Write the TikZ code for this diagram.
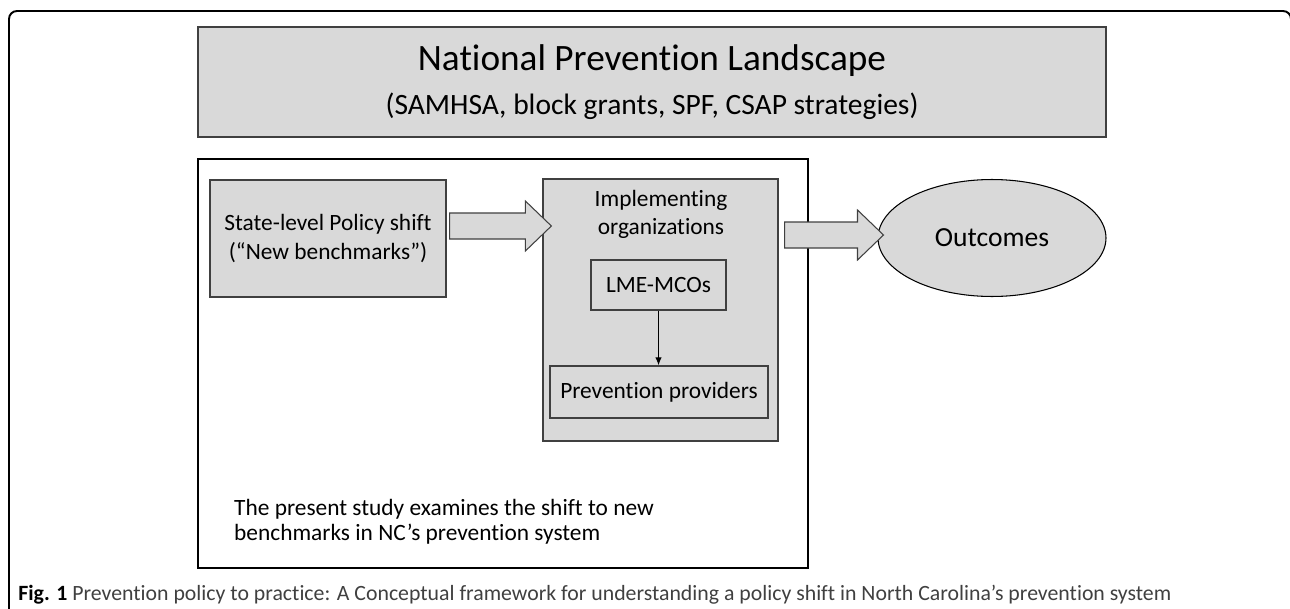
\documentclass[tikz,border=0pt]{standalone}
\usepackage{fontspec}
\setmainfont{Carlito}[Ligatures=NoCommon]
\usetikzlibrary{shapes.geometric,arrows.meta,calc}
\definecolor{boxfill}{HTML}{D9D9D9}
\definecolor{boxline}{HTML}{404040}
\begin{document}
\begin{tikzpicture}[x=.02cm,y=-.02cm,font=\fontsize{13.3}{16}\selectfont,
  graybox/.style={draw=boxline,fill=boxfill,line width=.75pt,inner sep=0pt,align=center},
  fatarrow/.style={draw=boxline,fill=boxfill,line width=.6pt,line join=miter}]
\useasboundingbox (0,0) rectangle (1290,608);
\draw[line width=1.1pt,rounded corners=.16cm] (9,640)--(9,11)--(1291,11)--(1291,640);
\node[graybox,minimum width=18.16cm,minimum height=2.2cm,font=\fontsize{21.2}{25}\selectfont] (land) at (652,82)
  {National Prevention Landscape\\{\fontsize{16.8}{20}\selectfont(SAMHSA, block grants, SPF, CSAP strategies)}};
\node[draw=black,fill=white,line width=.75pt,minimum width=12.2cm,minimum height=8.18cm] (study) at (503,363.5) {};
\node[graybox,minimum width=4.72cm,minimum height=2.34cm] (state) at (328,238.5) {State-level Policy shift\\(“New benchmarks”)};
\node[graybox,minimum width=4.7cm,minimum height=5.24cm] (impl) at (660.5,310) {};
\node[align=center] (impltitle) at (661,214) {Implementing\\organizations};
\node[graybox,minimum width=2.7cm,minimum height=1cm] (lme) at (658.5,285) {LME-MCOs};
\node[graybox,minimum width=4.36cm,minimum height=1.04cm] (prov) at (659,392) {Prevention providers};
\node[ellipse,draw=black,fill=boxfill,line width=.6pt,inner sep=0pt,minimum width=4.56cm,minimum height=2.34cm,
  font=\fontsize{15.7}{19}\selectfont] (outc) at (992,238) {Outcomes};
\draw[line width=.6pt,-{Latex[length=4.5pt,width=3.6pt]}] (lme.south)--(lme.south |- prov.north);
\coordinate (a1) at ($(state.east)+(3,-12.5)$);
\coordinate (t1) at ($(impl.west |- a1)+(9,0)$);
\draw[fatarrow] ($(a1)+(0,-13)$)--($(t1)+(-26,-13)$)--($(t1)+(-26,-25)$)--(t1)
  --($(t1)+(-26,25)$)--($(t1)+(-26,13)$)--($(a1)+(0,13)$)--cycle;
\coordinate (a2) at ($(impl.east)+(6,-75)$);
\coordinate (t2) at ($(outc.west |- a2)+(6,0)$);
\draw[fatarrow] ($(a2)+(0,-13)$)--($(t2)+(-26,-13)$)--($(t2)+(-26,-25)$)--(t2)
  --($(t2)+(-26,25)$)--($(t2)+(-26,13)$)--($(a2)+(0,13)$)--cycle;
\node[align=left,anchor=west,font=\fontsize{13.3}{14.5}\selectfont] (note) at (228,522)
  {The present study examines the shift to new\\benchmarks in NC’s prevention system};
\node[anchor=base west,inner sep=0pt,font=\fontsize{12.4}{14}\selectfont,text=black!75] (caption) at (18,600)
  {\textcolor{black}{\textbf{Fig. 1}} Prevention policy to practice: A Conceptual framework for understanding a policy shift in North Carolina’s prevention system};
\end{tikzpicture}
\end{document}
